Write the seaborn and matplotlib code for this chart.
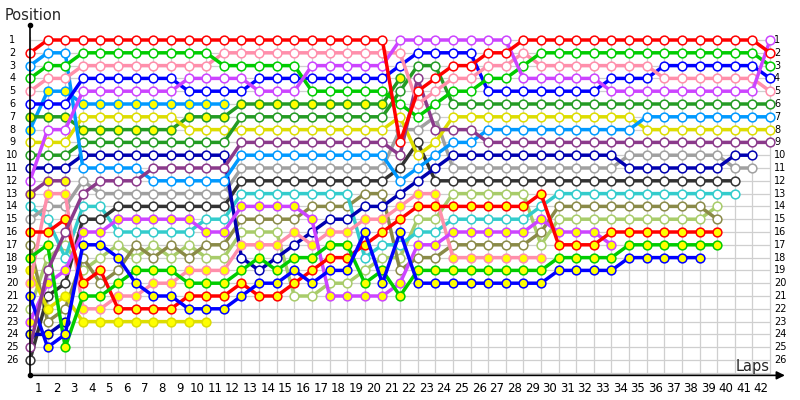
import matplotlib
matplotlib.use("Agg")
import matplotlib.pyplot as plt
import seaborn as sns
import pandas as pd

sns.set_theme(style="white")
plt.rcParams['font.family'] = ['DejaVu Sans']

lap_labels = [str(i) for i in range(1, 43)]
position_labels = [str(i) for i in range(1, 27)]

# Position after each lap (index 0 = grid)
red_w = [2,1,1,1,1,1,1,1,1,1,1,1,1,1,1,1,1,1,1,1,1,9,5,4,3,3,2,2,1,1,1,1,1,1,1,1,1,1,1,1,1,1,2]
violet_w = [12,8,8,5,5,5,5,5,5,4,4,4,4,5,5,5,3,3,3,3,3,1,1,1,1,1,1,1,4,4,4,4,4,5,5,5,5,5,5,5,5,5,1]
green_w = [4,3,3,2,2,2,2,2,2,2,2,3,3,3,3,3,5,5,5,5,5,6,7,6,5,5,4,4,3,2,2,2,2,2,2,2,2,2,2,2,2,2,3]
pink_w = [5,4,4,3,3,3,3,3,3,3,3,2,2,2,2,2,2,2,2,2,2,2,6,5,4,4,3,3,2,3,3,3,3,3,3,3,4,4,4,4,4,4,5]
blue_w = [6,6,6,4,4,4,4,4,4,5,5,5,5,4,4,4,4,4,4,4,4,3,2,2,2,2,5,5,5,5,5,5,5,4,4,4,3,3,3,3,3,3,4]
dgreen_w = [10,10,10,9,9,9,9,9,9,9,9,9,7,7,7,7,7,7,7,7,7,5,3,3,6,6,6,6,6,6,6,6,6,6,6,6,6,6,6,6,6,6,6]
dgreen_y = [7,7,7,8,8,8,8,8,8,7,7,7,6,6,6,6,6,6,6,6,6,4]
sky_w = [3,2,2,11,11,11,11,12,12,12,12,12,10,10,10,10,10,10,10,10,10,12,11,10,9,9,8,8,8,8,8,8,8,8,8,7,7,7,7,7,7,7,7]
sky_y = [8,5,5,6,6,6,6,6,6,6,6,6]
yellow_w = [9,9,9,7,7,7,7,7,7,8,8,8,8,8,8,8,8,8,8,8,8,7,10,9,7,7,7,7,7,7,7,7,7,7,7,8,8,8,8,8,8,8,8]
yellow_y = [19,22,21,23,23,23,23,23,23,23,23]
plum_w = [25,19,16,13,12,12,12,11,11,11,11,11,9,9,9,9,9,9,9,9,9,10,4,8,8,8,9,9,9,9,9,9,9,9,9,9,9,9,9,9,9,9,9]
plum_y = [13,12,12]
navy_w = [11,11,11,10,10,10,10,10,10,10,10,10,18,19,18,17,16,15,15,14,14,13,12,11,10,10,10,10,10,10,10,10,10,10,11,11,11,11,11,11,10,10]
navy_y = [24,24,23]
gray_w = [15,14,14,12,13,13,13,13,13,13,13,13,11,11,11,11,11,11,11,11,11,8,8,7,11,11,11,11,11,11,11,11,11,11,10,10,10,10,10,10,11,11]
black_w = [26,21,20,15,15,14,14,14,14,14,14,14,12,12,12,12,12,12,12,12,12,11,9,12,12,12,12,12,12,12,12,12,12,12,12,12,12,12,12,12,12]
teal_w = [14,15,18,14,14,16,16,16,16,16,15,15,13,13,13,13,13,13,13,18,17,17,16,16,15,15,15,15,15,14,13,13,13,13,13,13,13,13,13,13,13]
olive_w = [17,23,22,18,20,19,17,18,17,18,17,17,15,15,15,15,14,14,14,13,13,19,18,18,17,17,17,17,17,16,14,14,14,14,14,14,14,14,14,15]
lgreen_w = [22,18,17,19,18,17,18,17,18,17,18,18,16,16,16,21,21,20,20,19,18,18,15,15,13,13,13,13,13,17,15,15,15,15,15,15,15,15,15,14]
blue_y = [21,25,24,17,17,18,20,21,21,22,22,22,21,20,20,19,20,19,19,16,20,16,20,20,20,20,20,20,20,20,19,19,19,19,18,18,18,18,18]
green_y = [18,17,25,21,21,20,19,19,19,20,20,20,19,18,19,18,18,17,17,20,19,21,19,19,19,19,19,19,19,19,18,18,18,18,17,17,17,17,17,17]
red_y = [16,16,15,20,19,22,22,22,22,21,21,21,20,21,21,20,19,18,18,17,16,15,14,14,14,14,14,14,14,13,17,17,17,16,16,16,16,16,16,16]
violet_y = [23,20,19,16,16,15,15,15,15,15,16,16,14,14,14,14,15,21,21,21,21,20,17,17,16,16,16,16,16,15,16,16,16,17]
pink_y = [20,13,13,22,22,21,21,20,20,19,19,19,17,17,17,16,17,16,16,15,15,14,13,13,18,18,18,18,18,18]

RED, GREEN, PINK, BLUE = "#FF0000", "#00CC00", "#FF8FAB", "#0000FF"
VIOLET, SKY, DGREEN, YELLOW = "#CC44FF", "#0099FF", "#239B23", "#DDDD00"
PLUM, NAVY, GRAY, BLACK = "#8B3A8B", "#0000B0", "#A0A0A0", "#333333"
TEAL, OLIVE, LGREEN = "#33CCCC", "#8A8A48", "#A8CC6A"
FILL_Y = "#FFFF00"

drivers = [
    (lgreen_w, LGREEN, "white"), (olive_w, OLIVE, "white"), (teal_w, TEAL, "white"),
    (black_w, BLACK, "white"), (gray_w, GRAY, "white"), (navy_y, NAVY, FILL_Y),
    (navy_w, NAVY, "white"), (plum_y, PLUM, FILL_Y), (yellow_y, YELLOW, FILL_Y),
    (sky_y, SKY, FILL_Y), (dgreen_y, DGREEN, FILL_Y), (pink_y, PINK, FILL_Y),
    (violet_y, VIOLET, FILL_Y), (red_y, RED, FILL_Y), (green_y, GREEN, FILL_Y),
    (blue_y, BLUE, FILL_Y), (yellow_w, YELLOW, "white"), (dgreen_w, DGREEN, "white"),
    (sky_w, SKY, "white"), (plum_w, PLUM, "white"), (blue_w, BLUE, "white"),
    (pink_w, PINK, "white"), (green_w, GREEN, "white"), (violet_w, VIOLET, "white"),
    (red_w, RED, "white"),
]

fig = plt.figure(figsize=(8, 4), dpi=100)
ax = fig.add_axes([0, 0, 1, 1])

GX = 17.62   # px per lap
GY = 12.8    # px per position
X0, Y0 = 30, 40

# grid
for k in range(43):
    ax.plot([k, k], [0.75, 27.0], color="#cfcfcf", lw=0.9, zorder=0)
for p in range(1, 28):
    ax.plot([0, 42], [p, p], color="#cfcfcf", lw=0.9, zorder=0)

for vals, col, fill in drivers:
    df = pd.DataFrame({"lap": list(range(len(vals))), "pos": vals})
    sns.lineplot(data=df, x="lap", y="pos", color=col, lw=2.5, marker="o",
                 markersize=6.3, markerfacecolor=fill, markeredgecolor=col,
                 markeredgewidth=1.1, ax=ax, legend=False, estimator=None,
                 sort=False, zorder=3)

# axes
ax.plot([0, 0], [-0.2, 27.2], color="black", lw=1.2, zorder=4)
ax.plot([0], [-0.2], marker="o", color="black", markersize=3, zorder=4)
ax.plot([0], [27.2], marker="o", color="black", markersize=3, zorder=4)
ax.annotate("", xy=(43.0, 27.2), xytext=(0, 27.2),
            arrowprops=dict(arrowstyle="-|>", color="black", lw=1.2,
                            mutation_scale=12), zorder=4)

for i, lab in enumerate(position_labels):
    p = i + 1
    ax.text((12.5 - X0) / GX, p, lab, ha="center", va="center", fontsize=7, color="black")
    ax.text((774 - X0) / GX, p, lab, ha="left", va="center", fontsize=7, color="black")
for i, lab in enumerate(lap_labels):
    ax.text(i + 0.5, 28.2, lab, ha="center", va="center", fontsize=8.5, color="black")

ax.text((5 - X0) / GX, 1 - 25 / GY, "Position", ha="left", va="center", fontsize=10.5)
ax.text((770 - X0) / GX, 1 + 326 / GY, "Laps", ha="right", va="center", fontsize=10.5,
        bbox=dict(facecolor="none", edgecolor="none", pad=0))

ax.set_xlim(-X0 / GX, (800 - X0) / GX)
ax.set_ylim(1 + (400 - Y0) / GY, 1 - Y0 / GY)
ax.axis("off")
fig.savefig("out.png", dpi=100, facecolor="white")
